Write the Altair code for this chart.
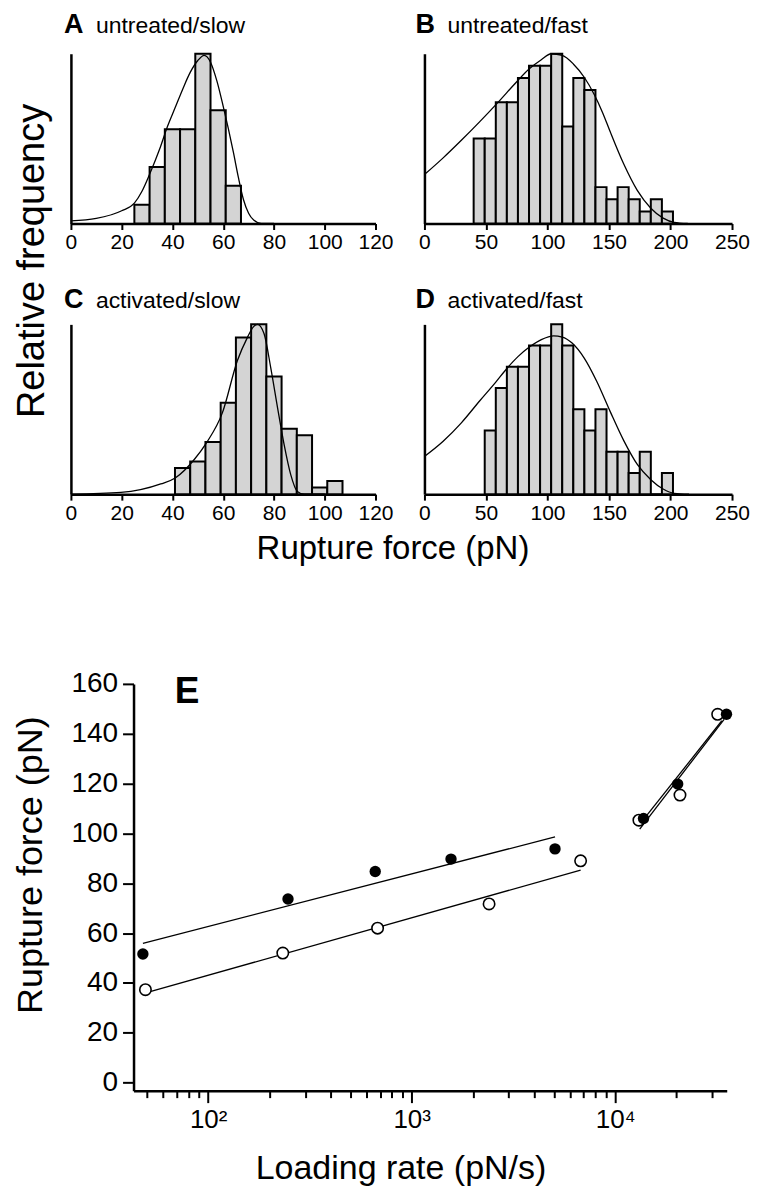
import altair as alt
import pandas as pd

FONT = "Liberation Sans"

# ---------------- Histogram data ----------------
panel_letters = ["A", "B", "C", "D"]
panel_names = ["untreated/slow", "untreated/fast", "activated/slow", "activated/fast"]

# A: untreated / slow
a_bin_start = [25, 31, 37, 43, 49, 55, 61]
a_counts = [1, 3, 5, 5, 9, 6, 2]
a_bin_width = 6
a_curve_x = [0, 10, 20, 25, 28, 31, 35, 38, 41, 44, 47, 50, 52.5, 55, 57.5, 60, 62, 64, 66, 68, 70, 72, 75, 80]
a_curve_y = [0.016, 0.03, 0.075, 0.12, 0.19, 0.29, 0.44, 0.57, 0.68, 0.79, 0.89, 0.96, 0.99, 0.95, 0.84,
             0.69, 0.56, 0.42, 0.27, 0.14, 0.06, 0.02, 0.0, 0.0]

# B: untreated / fast
b_bin_start = [40, 49, 58, 67, 76, 85, 94, 103, 112, 121, 130, 139, 148, 157, 166, 175, 184, 193]
b_counts = [7, 7, 10, 10, 12, 13, 13, 14, 8, 12, 11, 3, 2, 3, 2, 1, 2, 1]
b_bin_width = 9
b_curve_x = [0, 15, 30, 45, 60, 75, 85, 95, 103, 112, 121, 130, 138, 145, 151, 162, 173, 184, 194, 203, 214]
b_curve_y = [0.288, 0.385, 0.49, 0.6, 0.715, 0.835, 0.91, 0.965, 1.0, 0.99, 0.94, 0.86, 0.76, 0.65, 0.54,
             0.35, 0.195, 0.09, 0.032, 0.007, 0.0]

# C: activated / slow
c_bin_start = [41, 47, 53, 59, 65, 71, 77, 83, 89, 95, 101]
c_counts = [4, 5, 8, 14, 24, 26, 18, 10, 9, 1, 2]
c_bin_width = 6
c_curve_x = [0, 19.7, 35.4, 41.1, 48.6, 53.4, 59.7, 65.6, 69.6, 71.8, 73.5, 76.1, 78.7, 81.4, 84, 86.6,
             89.2, 91.9, 100]
c_curve_y = [0.0, 0.01, 0.06, 0.095, 0.204, 0.302, 0.48, 0.787, 0.925, 0.984, 1.0, 0.945, 0.747, 0.51,
             0.292, 0.115, 0.016, 0.0, 0.0]

# D: activated / fast
d_bin_start = [49, 58, 67, 76, 85, 94, 103, 112, 121, 130, 139, 148, 157, 166, 175, 184, 193]
d_counts = [6, 10, 12, 12, 14, 14, 16, 14, 8, 6, 8, 4, 4, 2, 4, 0, 2]
d_bin_width = 9
d_curve_x = [0, 15, 30, 45, 58, 67, 76, 85, 95, 105, 112, 120, 130, 140, 151, 162, 173, 184, 194, 203, 215]
d_curve_y = [0.222, 0.31, 0.42, 0.55, 0.66, 0.74, 0.81, 0.865, 0.91, 0.932, 0.925, 0.89, 0.80, 0.665,
             0.486, 0.315, 0.175, 0.085, 0.03, 0.005, 0.0]

slow_ticks = [0, 20, 40, 60, 80, 100, 120]
fast_ticks = [0, 50, 100, 150, 200, 250]

# ---------------- Panel E data ----------------
e_letter = "E"
act_rate = [47.8, 246.8, 662, 1560, 5060, 13770, 20270, 35200]
act_force = [51.6, 73.7, 84.7, 89.7, 93.8, 106.0, 119.8, 147.8]
unt_rate = [49.2, 232.7, 680, 2400, 6760, 13070, 20800, 31860]
unt_force = [37.3, 52.0, 62.0, 71.7, 89.0, 105.3, 115.4, 147.8]
fit_group = ["act_slow", "act_slow", "unt_slow", "unt_slow", "act_fast", "act_fast", "unt_fast", "unt_fast"]
fit_rate = [47.8, 5060, 52.4, 6760, 13190, 34270, 13000, 33400]
fit_force = [55.9, 98.6, 36.6, 85.3, 101.7, 145.8, 103.0, 145.2]
e_x_ticks = [50, 60, 70, 80, 90, 100, 200, 300, 400, 500, 600, 700, 800, 900, 1000,
             2000, 3000, 4000, 5000, 6000, 7000, 8000, 9000, 10000, 20000, 30000]
e_x_label_values = [100, 1000, 10000]
e_x_label_texts = ["10²", "10³", "10⁴"]
e_y_ticks = [0, 20, 40, 60, 80, 100, 120, 140, 160]

BAR_FILL = "#d4d4d4"


def hist_panel(idx, starts, counts, width, cx, cy, xmax, ticks, w, label_y, letter_x, name_x,
               ytitle=None, xtitle=None, anchor=False):
    peak = max(counts)
    bars = pd.DataFrame({
        "x0": starts,
        "x1": [s + width for s in starts],
        "rel": [c / peak for c in counts],
    })
    curve = pd.DataFrame({"x": cx, "y": cy})
    xscale = alt.Scale(domain=[0, xmax], nice=False, zero=True)
    yscale = alt.Scale(domain=[0, 1], nice=False)

    xaxis_kw = dict(values=ticks, tickSize=6, tickWidth=2, tickColor="black", domainWidth=2.5,
                    domainColor="black", labelFontSize=21, labelFont=FONT, labelColor="black",
                    labelPadding=2, labelFlush=False, grid=False, format="d")
    if xtitle:
        xaxis_kw.update(title=xtitle, titleFontSize=33, titleFont=FONT, titleFontWeight="normal",
                        titleColor="black", titleX=322, titleY=64, titleBaseline="alphabetic",
                        titleAnchor="start", titleAlign="center")
    else:
        xaxis_kw.update(title=None)
    yaxis_kw = dict(ticks=False, labels=False, domainWidth=2.5, domainColor="black", grid=False)
    if ytitle:
        yaxis_kw.update(title=ytitle, titleFontSize=38, titleFont=FONT, titleFontWeight="normal",
                        titleColor="black", titleX=-19, titleY=207, titleAlign="center",
                        titleAngle=270, titleBaseline="bottom")
    else:
        yaxis_kw.update(title=None)

    bar_layer = alt.Chart(bars).mark_bar(fill=BAR_FILL, stroke="black", strokeWidth=2).encode(
        x=alt.X("x0:Q", scale=xscale, axis=alt.Axis(**xaxis_kw)),
        x2="x1:Q",
        y=alt.Y("rel:Q", scale=yscale, axis=alt.Axis(**yaxis_kw)),
        y2=alt.datum(0),
    )
    line_layer = alt.Chart(curve).mark_line(color="black", strokeWidth=1.3, interpolate="monotone").encode(
        x=alt.X("x:Q", scale=xscale),
        y=alt.Y("y:Q", scale=yscale),
    )
    lab = pd.DataFrame({"letter": [panel_letters[idx]], "name": [panel_names[idx]]})
    letter_layer = alt.Chart(lab).mark_text(align="left", baseline="alphabetic", fontSize=27,
                                            fontWeight="bold", font=FONT, color="black").encode(
        x=alt.value(letter_x), y=alt.value(label_y), text="letter:N")
    name_layer = alt.Chart(lab).mark_text(align="left", baseline="alphabetic", fontSize=23,
                                          font=FONT, color="black").encode(
        x=alt.value(name_x), y=alt.value(label_y), text="name:N")
    layers = [bar_layer, line_layer, letter_layer, name_layer]
    if anchor:
        # invisible point fixing the top-left corner of the whole figure
        layers.append(alt.Chart(lab).mark_point(opacity=0, size=1, strokeWidth=0).encode(
            x=alt.value(-62), y=alt.value(-44)))
    return alt.layer(*layers).properties(width=w, height=170)


A = hist_panel(0, a_bin_start, a_counts, a_bin_width, a_curve_x, a_curve_y, 120, slow_ticks, 305,
               -21, -7, 25, ytitle="Relative frequency", anchor=True)
B = hist_panel(1, b_bin_start, b_counts, b_bin_width, b_curve_x, b_curve_y, 250, fast_ticks, 308,
               -21, -9, 23)
C = hist_panel(2, c_bin_start, c_counts, c_bin_width, c_curve_x, c_curve_y, 120, slow_ticks, 305,
               -16, -7, 25, xtitle="Rupture force (pN)")
D = hist_panel(3, d_bin_start, d_counts, d_bin_width, d_curve_x, d_curve_y, 250, fast_ticks, 308,
               -16, -9, 23)

# ---------------- Panel E ----------------
act_df = pd.DataFrame({"rate": act_rate, "force": act_force})
unt_df = pd.DataFrame({"rate": unt_rate, "force": unt_force})
fit_df = pd.DataFrame({"grp": fit_group, "rate": fit_rate, "force": fit_force})

label_expr = " : ".join(
    [f"datum.value == {v} ? '{t}'" for v, t in zip(e_x_label_values, e_x_label_texts)]) + " : ''"
major_test = " || ".join([f"datum.value == {v}" for v in e_x_label_values])

# E sits in the left grid column; its plot area is shifted right / down inside its cell
E_LEFT = 62.7
E_TOP = 89
E_W = 594
E_H = 407.3

ex_scale = alt.Scale(type="log", domain=[43, 35300], nice=False, range=[E_LEFT, E_LEFT + E_W])
ey_scale = alt.Scale(domain=[-3.2, 160], nice=False, zero=False, range=[E_TOP + E_H, E_TOP])

e_xaxis = alt.Axis(values=e_x_ticks, labelExpr=label_expr,
                   tickSize={"condition": {"test": major_test, "value": 12}, "value": 7},
                   tickWidth=2, tickColor="black", domainWidth=2.5, domainColor="black",
                   labelFontSize=26, labelFont=FONT, labelColor="black", labelPadding=4,
                   labelFlush=False, labelOverlap=False, grid=False,
                   title="Loading rate (pN/s)", titleFontSize=34, titleFont=FONT,
                   titleFontWeight="normal", titleColor="black", titleX=330, titleY=88,
                   titleBaseline="alphabetic", titleAlign="center", titleAnchor="start")
e_yaxis = alt.Axis(values=e_y_ticks, tickSize=11, tickWidth=2, tickColor="black",
                   domainWidth=2.5, domainColor="black", labelFontSize=28, labelFont=FONT,
                   labelColor="black", labelPadding=5, grid=False, offset=-E_LEFT,
                   title="Rupture force (pN)", titleFontSize=36, titleFont=FONT,
                   titleFontWeight="normal", titleColor="black", titleX=-84, titleY=270,
                   titleAlign="center", titleAngle=270, titleBaseline="bottom")

fit_layer = alt.Chart(fit_df).mark_line(color="black", strokeWidth=1.3).encode(
    x=alt.X("rate:Q", scale=ex_scale, axis=e_xaxis),
    y=alt.Y("force:Q", scale=ey_scale, axis=e_yaxis),
    detail="grp:N",
)
unt_layer = alt.Chart(unt_df).mark_point(shape="circle", filled=True, fill="white", stroke="black",
                                         strokeWidth=1.6, size=130, opacity=1).encode(
    x=alt.X("rate:Q", scale=ex_scale), y=alt.Y("force:Q", scale=ey_scale))
act_layer = alt.Chart(act_df).mark_point(shape="circle", filled=True, color="black",
                                         size=130, opacity=1).encode(
    x=alt.X("rate:Q", scale=ex_scale), y=alt.Y("force:Q", scale=ey_scale))
e_lab = pd.DataFrame({"letter": [e_letter]})
e_letter_layer = alt.Chart(e_lab).mark_text(align="left", baseline="alphabetic", fontSize=37,
                                            fontWeight="bold", font=FONT, color="black").encode(
    x=alt.value(104), y=alt.value(108), text="letter:N")

E = alt.layer(fit_layer, unt_layer, act_layer, e_letter_layer).properties(width=305, height=E_TOP + E_H)

chart = alt.concat(A, B, C, D, E, columns=2, spacing={"row": 101, "column": 49}, bounds="flush").properties(
    padding={"left": 0, "top": 0, "right": 0, "bottom": 0}
).configure(font=FONT).configure_view(strokeWidth=0, stroke="transparent")

chart.save("out.html", embed_options={"renderer": "svg", "actions": False})
